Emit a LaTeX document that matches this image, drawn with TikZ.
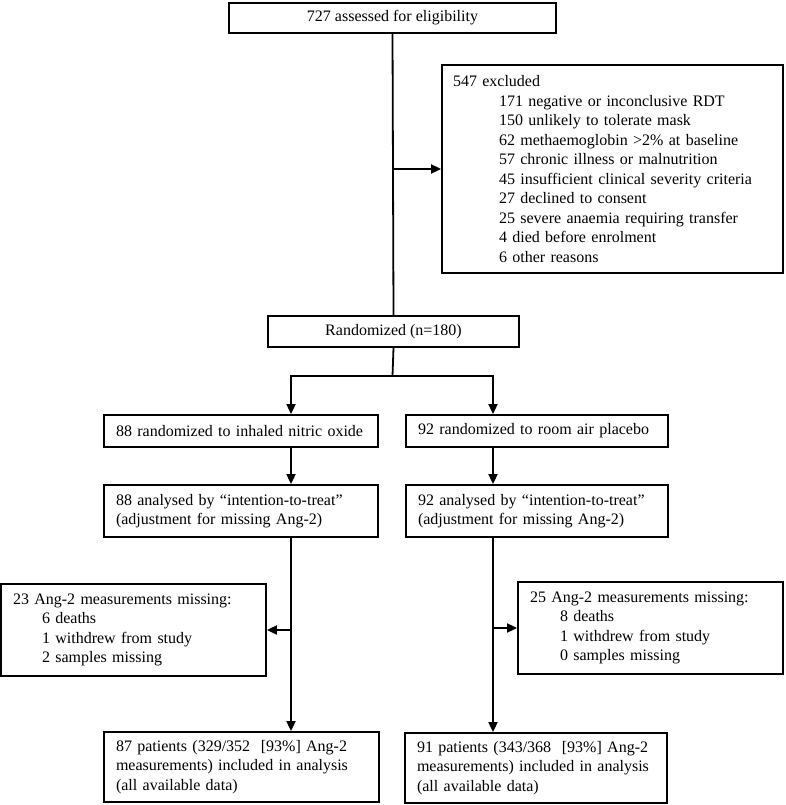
\documentclass[tikz,border=0pt]{standalone}
\usepackage{fontspec}
\setmainfont{Liberation Serif}
\usetikzlibrary{arrows.meta}
\newcommand{\fsz}{\fontsize{16}{19.5}\selectfont}
\tikzset{
  box/.style={draw, line width=1.8pt, inner xsep=12pt, inner ysep=0pt, align=left, font=\fsz},
  cbox/.style={draw, line width=1.8pt, inner sep=0pt, align=center, font=\fsz},
  ln/.style={line width=1.8pt},
  arr/.style={line width=1.8pt, -{Triangle[length=10pt,width=9pt]}}
}
\begin{document}
\begin{tikzpicture}[x=1pt,y=-1pt]
\useasboundingbox (0,0) rectangle (785,805);
\fill[white] (0,0) rectangle (785,805);

\node[cbox, minimum width=327pt, minimum height=30pt] (top) at (392.5,18) {727 assessed for eligibility};

\node[box, inner xsep=11pt, text width=319pt, minimum height=208pt] (excl) at (612.5,169) {547 excluded\\
\hspace*{46pt}171 negative or inconclusive RDT\\
\hspace*{46pt}150 unlikely to tolerate mask\\
\hspace*{46pt}62 methaemoglobin >2\% at baseline\\
\hspace*{46pt}57 chronic illness or malnutrition\\
\hspace*{46pt}45 insufficient clinical severity criteria\\
\hspace*{46pt}27 declined to consent\\
\hspace*{46pt}25 severe anaemia requiring transfer\\
\hspace*{46pt}4 died before enrolment\\
\hspace*{46pt}6 other reasons};

\node[cbox, minimum width=251pt, minimum height=31pt] (rand) at (393.5,331.5) {Randomized (n=180)};

\node[box, text width=250pt, minimum height=32pt] (r1L) at (241,431) {88 randomized to inhaled nitric oxide};
\node[box, text width=238pt, minimum height=32pt] (r1R) at (537,431) {92 randomized to room air placebo};

\node[box, text width=250pt, minimum height=52pt] (r2L) at (241,511) {88 analysed by “intention-to-treat”\\(adjustment for missing Ang-2)};
\node[box, text width=238pt, minimum height=52pt] (r2R) at (537,511) {92 analysed by “intention-to-treat”\\(adjustment for missing Ang-2)};

\node[box, text width=241pt, minimum height=92pt] (missL) at (133.5,630) {23 Ang-2 measurements missing:\\
\hspace*{29pt}6 deaths\\
\hspace*{29pt}1 withdrew from study\\
\hspace*{29pt}2 samples missing};
\node[box, text width=241pt, minimum height=92pt] (missR) at (650.5,628) {25 Ang-2 measurements missing:\\
\hspace*{30pt}8 deaths\\
\hspace*{30pt}1 withdrew from study\\
\hspace*{30pt}0 samples missing};

\node[box, text width=251pt, minimum height=70pt] (botL) at (241.5,767) {87 patients (329/352\ \ [93\%] Ang-2\\measurements) included in analysis\\(all available data)};
\node[box, text width=238pt, minimum height=70pt] (botR) at (536,768) {91 patients (343/368\ \ [93\%] Ang-2\\measurements) included in analysis\\(all available data)};

\coordinate (split) at (392.5,376);
\coordinate (jL) at (291,376);
\coordinate (jR) at (493,376);

\draw[ln] (top.south) -- (rand.north);
\draw[arr] (top.south |- excl.west) -- (excl.west);
\draw[ln] (rand.south) -- (split);
\draw[ln, line cap=rect] (jL) -- (jR);
\draw[arr] (jL) -- (jL |- r1L.north);
\draw[arr] (jR) -- (jR |- r1R.north);
\draw[arr] (jL |- r1L.south) -- (jL |- r2L.north);
\draw[arr] (jR |- r1R.south) -- (jR |- r2R.north);
\draw[arr] (jL |- r2L.south) -- (jL |- botL.north);
\draw[arr] (jR |- r2R.south) -- (jR |- botR.north);
\draw[arr] (jL |- missL.east) -- (missL.east);
\draw[arr] (jR |- missR.west) -- (missR.west);
\end{tikzpicture}
\end{document}
